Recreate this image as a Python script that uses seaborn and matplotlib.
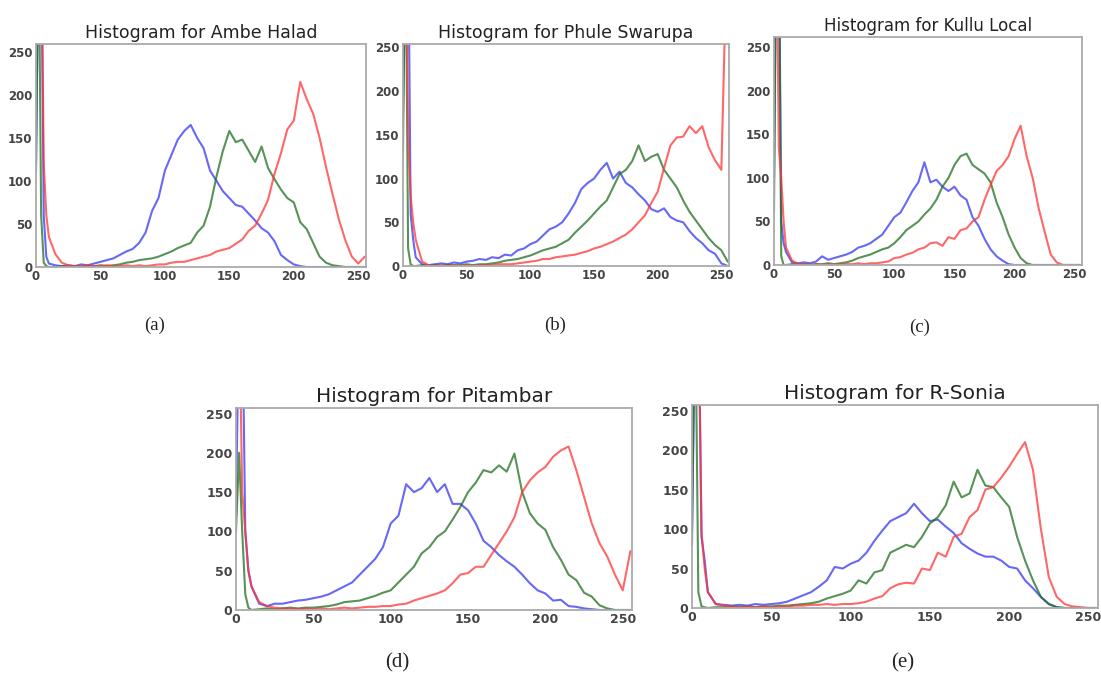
import matplotlib
matplotlib.use('Agg')
import matplotlib.pyplot as plt
import seaborn as sns
import pandas as pd
import numpy as np

levels = [0, 2, 4, 6, 8, 10] + list(range(15, 256, 5))

# (a) Ambe Halad
ambe_blue = [110, 400, 400, 60, 12, 4, 2, 1, 2, 1, 3, 2, 4, 6, 8,
             10, 14, 18, 21, 28, 40, 65, 80, 112, 130, 148, 158, 165, 150, 138, 112,
             100, 88, 80, 72, 70, 62, 54, 45, 40, 30, 14, 8, 3, 1, 0, 0,
             0, 0, 0, 0, 0, 0, 0, 0]
ambe_green = [120, 400, 60, 5, 1, 0, 0, 1, 0, 1, 0, 1, 1, 2, 1,
              2, 3, 5, 6, 8, 9, 10, 12, 15, 18, 22, 25, 28, 40, 48, 70,
              105, 135, 158, 145, 148, 135, 122, 140, 115, 102, 90, 80, 75, 52, 44, 28,
              12, 5, 2, 1, 0, 0, 0, 0]
ambe_red = [250, 400, 400, 120, 60, 35, 15, 5, 2, 1, 1, 2, 1, 1, 2,
            1, 1, 2, 1, 2, 1, 2, 3, 3, 5, 6, 6, 8, 10, 12, 14,
            18, 20, 22, 27, 32, 42, 48, 62, 78, 108, 132, 160, 170, 215, 195, 178,
            150, 116, 85, 55, 31, 12, 4, 12]

# (b) Phule Swarupa
phule_blue = [175, 400, 400, 60, 30, 10, 2, 1, 2, 3, 2, 4, 3, 5, 6,
              8, 7, 10, 9, 13, 12, 18, 20, 25, 28, 35, 42, 45, 50, 60, 72,
              88, 95, 100, 110, 118, 100, 108, 95, 90, 82, 75, 65, 62, 66, 56, 52,
              50, 40, 32, 26, 18, 14, 3, 0]
phule_green = [130, 400, 20, 2, 0, 0, 1, 0, 1, 0, 1, 1, 1, 2, 1,
               2, 2, 3, 4, 6, 7, 8, 10, 12, 15, 18, 20, 22, 26, 30, 38,
               45, 52, 60, 68, 75, 90, 105, 110, 120, 138, 120, 125, 128, 110, 100, 90,
               75, 62, 52, 42, 32, 24, 18, 5]
phule_red = [400, 400, 150, 80, 50, 30, 5, 1, 0, 1, 0, 1, 0, 1, 0,
             1, 1, 1, 2, 2, 2, 3, 4, 5, 6, 8, 8, 10, 11, 12, 13,
             15, 17, 20, 22, 25, 28, 32, 36, 42, 50, 58, 72, 85, 112, 138, 147,
             148, 160, 152, 160, 136, 121, 110, 400]

# (c) Kullu Local
kullu_blue = [100, 400, 400, 50, 25, 15, 3, 2, 3, 2, 4, 10, 6, 8, 10,
              12, 15, 20, 22, 25, 30, 35, 45, 55, 60, 72, 85, 95, 118, 95, 98,
              90, 85, 90, 80, 75, 55, 45, 30, 18, 10, 5, 1, 0, 0, 0, 0,
              0, 0, 0, 0, 0, 0, 0, 0]
kullu_green = [60, 400, 400, 10, 0, 0, 1, 0, 1, 0, 1, 1, 2, 1, 2,
               3, 5, 8, 10, 12, 15, 18, 20, 25, 32, 40, 45, 50, 58, 65, 75,
               90, 100, 115, 125, 128, 115, 110, 105, 95, 72, 55, 35, 20, 8, 2, 0,
               0, 0, 0, 0, 0, 0, 0, 0]
kullu_red = [400, 400, 135, 100, 50, 20, 5, 1, 1, 0, 1, 0, 1, 0, 1,
             1, 1, 2, 1, 2, 2, 3, 4, 8, 9, 12, 14, 18, 20, 25, 26,
             22, 32, 30, 40, 42, 50, 55, 75, 92, 108, 115, 125, 145, 160, 125, 100,
             65, 38, 12, 3, 0, 0, 0, 0]

# (d) Pitambar
pitambar_blue = [120, 400, 400, 100, 50, 30, 8, 5, 8, 8, 10, 12, 13, 15, 17,
                 20, 25, 30, 35, 45, 55, 65, 80, 110, 120, 160, 150, 155, 168, 150, 160,
                 135, 135, 127, 110, 88, 80, 70, 62, 55, 45, 34, 25, 21, 12, 13, 5,
                 4, 2, 1, 0, 0, 0, 0, 0]
pitambar_green = [100, 200, 100, 20, 3, 0, 1, 2, 1, 2, 3, 2, 3, 3, 4,
                  5, 7, 10, 11, 12, 15, 18, 22, 25, 35, 45, 55, 72, 80, 93, 100,
                  115, 131, 150, 162, 178, 175, 184, 176, 199, 150, 123, 110, 102, 80, 64, 45,
                  38, 22, 17, 6, 2, 0, 0, 0]
pitambar_red = [400, 400, 150, 100, 50, 30, 10, 5, 3, 2, 2, 1, 2, 1, 2,
                1, 2, 3, 2, 3, 4, 4, 5, 5, 7, 8, 12, 15, 18, 21, 25,
                34, 45, 47, 55, 55, 70, 85, 100, 118, 150, 165, 175, 182, 195, 203, 208,
                178, 144, 110, 85, 68, 45, 25, 75]

# (e) R-Sonia
sonia_blue = [80, 400, 400, 90, 60, 20, 5, 4, 3, 4, 3, 5, 4, 5, 6,
              8, 12, 16, 20, 27, 35, 52, 50, 56, 60, 70, 85, 98, 110, 115, 120,
              132, 120, 110, 112, 103, 95, 82, 75, 69, 65, 65, 60, 52, 50, 35, 25,
              14, 5, 1, 0, 0, 0, 0, 0]
sonia_green = [100, 400, 20, 2, 1, 0, 1, 1, 2, 1, 2, 1, 2, 2, 3,
               3, 4, 5, 6, 8, 12, 15, 18, 22, 35, 31, 45, 48, 70, 75, 80,
               77, 90, 107, 115, 130, 160, 140, 145, 175, 155, 153, 140, 128, 90, 60, 35,
               14, 5, 1, 0, 0, 0, 0, 0]
sonia_red = [400, 400, 400, 95, 50, 20, 5, 3, 2, 1, 2, 1, 2, 1, 2,
             2, 3, 3, 4, 4, 5, 4, 5, 5, 6, 8, 12, 15, 25, 30, 32,
             31, 50, 48, 70, 65, 90, 94, 115, 124, 150, 153, 165, 179, 195, 210, 175,
             100, 39, 14, 5, 2, 1, 0, 0]

varieties = ['Ambe Halad', 'Phule Swarupa', 'Kullu Local', 'Pitambar', 'R-Sonia']
panel_tags = ['(a)', '(b)', '(c)', '(d)', '(e)']
channels = {
    'Ambe Halad': (ambe_blue, ambe_green, ambe_red),
    'Phule Swarupa': (phule_blue, phule_green, phule_red),
    'Kullu Local': (kullu_blue, kullu_green, kullu_red),
    'Pitambar': (pitambar_blue, pitambar_green, pitambar_red),
    'R-Sonia': (sonia_blue, sonia_green, sonia_red),
}

sns.set_style('white')
plt.rcParams['font.family'] = ['DejaVu Sans']

W, H = 1101, 680
fig = plt.figure(figsize=(W / 100, H / 100), dpi=100)

# axes boxes in pixels: left, right, top, bottom
boxes = [(36, 366, 44, 267), (403, 729, 44, 266), (774, 1082, 37, 265),
         (236, 632, 408, 610), (692, 1098, 405, 608)]
ytops = [259, 254, 262, 257, 257]
title_sizes = [12.5, 12.5, 12, 14.5, 14.5]
tick_sizes = [8.5, 8.5, 8.5, 9, 9]
tag_pos = [(155, 325), (555, 325), (920, 327), (397, 663), (903, 663)]
tag_sizes = [13.5, 13.5, 13.5, 15, 15]

palette = {'b': '#3535f5', 'g': '#1f6f1f', 'r': '#ff3535'}

for i, name in enumerate(varieties):
    l, r, t, b = boxes[i]
    ax = fig.add_axes([l / W, 1 - b / H, (r - l) / W, (b - t) / H])
    blue, green, red = channels[name]
    df = pd.DataFrame({
        'level': levels * 3,
        'count': blue + green + red,
        'channel': ['b'] * len(levels) + ['g'] * len(levels) + ['r'] * len(levels),
    })
    sns.lineplot(data=df, x='level', y='count', hue='channel', palette=palette,
                 hue_order=['b', 'g', 'r'], legend=False, ax=ax, lw=1.5, alpha=0.75)
    ax.set_xlim(0, 256)
    ax.set_ylim(0, ytops[i])
    ax.set_xticks([0, 50, 100, 150, 200, 250])
    ax.set_yticks([0, 50, 100, 150, 200, 250])
    ax.set_xlabel('')
    ax.set_ylabel('')
    ax.tick_params(length=0, pad=2.5, labelsize=tick_sizes[i], labelcolor='#444444')
    for lab in ax.get_xticklabels() + ax.get_yticklabels():
        lab.set_fontweight('bold')
    for sp in ax.spines.values():
        sp.set_color('#aaaaaa')
        sp.set_linewidth(1.3)
    ax.set_title('Histogram for ' + name, fontsize=title_sizes[i], pad=4, color='#222222')
    tx, ty = tag_pos[i]
    fig.text(tx / W, 1 - ty / H, panel_tags[i], ha='center', va='center',
             fontsize=tag_sizes[i], family='Liberation Serif', color='#222222')

fig.savefig('out.png', dpi=100, facecolor='white')
